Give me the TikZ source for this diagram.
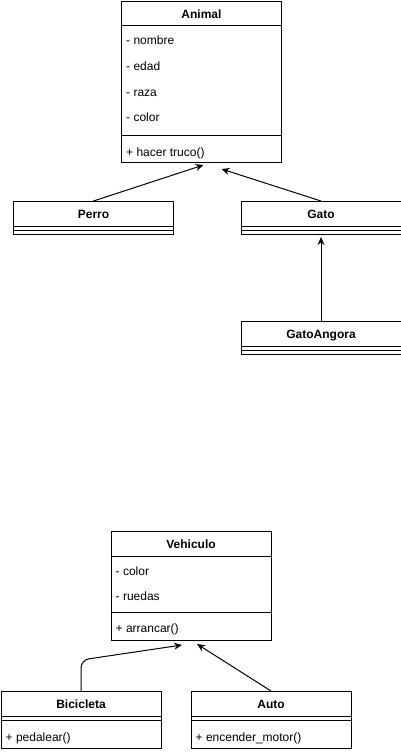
\documentclass[tikz,border=0pt]{standalone}
\usepackage{fontspec}
\setmainfont{Liberation Sans}
\usetikzlibrary{arrows.meta,calc}
\begin{document}
\begin{tikzpicture}[x=1pt,y=-1pt,
  cbox/.style={draw, line width=1pt, inner sep=0pt, anchor=north west, minimum width=160pt},
  txt/.style={inner sep=0pt, anchor=base west, font=\fontsize{12}{14}\selectfont},
  ttl/.style={inner sep=0pt, anchor=base, font=\fontsize{12}{14}\selectfont\bfseries},
  sepline/.style={line width=1pt},
  gen/.style={line width=1pt, -{Stealth[length=8pt,width=7pt]}}]
\useasboundingbox (0,0) rectangle (401,752);

% ---------- Animal ----------
\node[cbox, minimum height=161pt] (animal) at (121,1) {};
\draw[sepline] ($(animal.north west)+(0,25)$) -- ($(animal.north east)+(0,25)$);
\draw[sepline] ($(animal.north west)+(0,134)$) -- ($(animal.north east)+(0,134)$);
\node[ttl] (animalT) at ($(animal.north)+(0,17.5)$) {Animal};
\node[txt] (a1) at ($(animal.north west)+(5,44)$) {- nombre};
\node[txt] (a2) at ($(animal.north west)+(5,69.5)$) {- edad};
\node[txt] (a3) at ($(animal.north west)+(5,95)$) {- raza};
\node[txt] (a4) at ($(animal.north west)+(5,120.5)$) {- color};
\node[txt] (am1) at ($(animal.north west)+(5,155)$) {+ hacer truco()};

% ---------- Perro ----------
\node[cbox, minimum height=33pt] (perro) at (13,201) {};
\draw[sepline] ($(perro.north west)+(0,25)$) -- ($(perro.north east)+(0,25)$);
\draw[sepline] ($(perro.north west)+(0,29)$) -- ($(perro.north east)+(0,29)$);
\node[ttl] (perroT) at ($(perro.north)+(0,17)$) {Perro};

% ---------- Gato ----------
\node[cbox, minimum height=33pt] (gato) at (240.5,201) {};
\draw[sepline] ($(gato.north west)+(0,25)$) -- ($(gato.north east)+(0,25)$);
\draw[sepline] ($(gato.north west)+(0,29)$) -- ($(gato.north east)+(0,29)$);
\node[ttl] (gatoT) at ($(gato.north)+(0,17)$) {Gato};

% ---------- GatoAngora ----------
\node[cbox, minimum height=33pt] (angora) at (240.5,321) {};
\draw[sepline] ($(angora.north west)+(0,25)$) -- ($(angora.north east)+(0,25)$);
\draw[sepline] ($(angora.north west)+(0,29)$) -- ($(angora.north east)+(0,29)$);
\node[ttl] (angoraT) at ($(angora.north)+(0,17)$) {GatoAngora};

% ---------- Vehiculo ----------
\node[cbox, minimum height=109pt] (vehiculo) at (110.5,531) {};
\draw[sepline] ($(vehiculo.north west)+(0,25)$) -- ($(vehiculo.north east)+(0,25)$);
\draw[sepline] ($(vehiculo.north west)+(0,81)$) -- ($(vehiculo.north east)+(0,81)$);
\node[ttl] (vehiculoT) at ($(vehiculo.north)+(0,17)$) {Vehiculo};
\node[txt] (v1) at ($(vehiculo.north west)+(5,44)$) {- color};
\node[txt] (v2) at ($(vehiculo.north west)+(5,69.5)$) {- ruedas};
\node[txt] (vm1) at ($(vehiculo.north west)+(5,101)$) {+ arrancar()};

% ---------- Bicicleta ----------
\node[cbox, minimum height=57pt] (bici) at (0.5,691) {};
\draw[sepline] ($(bici.north west)+(0,25)$) -- ($(bici.north east)+(0,25)$);
\draw[sepline] ($(bici.north west)+(0,29)$) -- ($(bici.north east)+(0,29)$);
\node[ttl] (biciT) at ($(bici.north)+(0,17)$) {Bicicleta};
\node[txt] (bm1) at ($(bici.north west)+(5,50)$) {+ pedalear()};

% ---------- Auto ----------
\node[cbox, minimum height=57pt] (auto) at (190.5,691) {};
\draw[sepline] ($(auto.north west)+(0,25)$) -- ($(auto.north east)+(0,25)$);
\draw[sepline] ($(auto.north west)+(0,29)$) -- ($(auto.north east)+(0,29)$);
\node[ttl] (autoT) at ($(auto.north)+(0,17)$) {Auto};
\node[txt] (um1) at ($(auto.north west)+(5,50)$) {+ encender\_motor()};

% ---------- connectors ----------
\coordinate (tipPerro) at ($(animal.south)+(2,2)$);
\coordinate (tipGato) at ($(animal.south)+(20,6)$);
\coordinate (tipAngora) at ($(gato.south)+(0,2)$);
\coordinate (tipBici) at ($(vehiculo.south)+(-9,4)$);
\coordinate (tipAuto) at ($(vehiculo.south)+(6,3)$);
\coordinate (biciBend) at ($(bici.north)+(0,-31)$);

\draw[gen] (perro.north) -- (tipPerro);
\draw[gen] (gato.north) -- (tipGato);
\draw[gen] (angora.north) -- (tipAngora);
\draw[gen, rounded corners=8pt] (bici.north) -- (biciBend) -- (tipBici);
\draw[gen] (auto.north) -- (tipAuto);
\end{tikzpicture}
\end{document}
